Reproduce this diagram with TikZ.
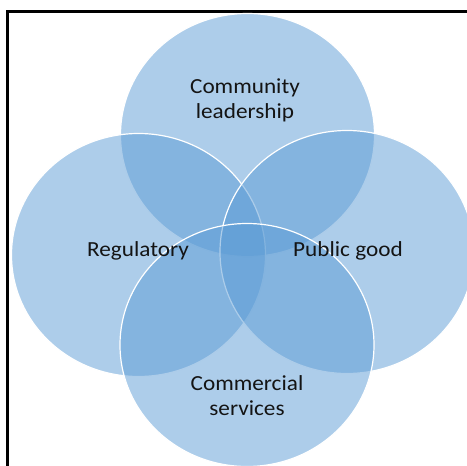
\documentclass[tikz,border=0pt]{standalone}
\usepackage{fontspec}
\setmainfont{Carlito}[FakeStretch=1.08]
\usetikzlibrary{shapes.geometric}
\definecolor{vennblue}{RGB}{91,155,213}
\definecolor{ink}{RGB}{20,20,20}

\begin{document}
\begin{tikzpicture}[x=1pt, y=-1pt]
\tikzstyle{petal}=[ellipse, fill=vennblue, fill opacity=0.5, draw=white, line width=1.2pt, minimum width=254pt, minimum height=243pt, inner sep=0pt]
\tikzstyle{venntext}=[text=ink, align=center, font=\fontsize{21.5}{25}\selectfont]
\useasboundingbox (0,0) rectangle (467,466);
% frame, only its left and top sides show
\draw[line width=3pt] (7.5,470) -- (7.5,11) -- (470,11);
% the four circles
\node[petal] (lead)  at (247.5,135) {};
\node[petal] (reg)   at (138.5,255) {};
\node[petal] (pub)   at (347,252)   {};
\node[petal] (comm)  at (247,345)   {};
% their labels
\node[venntext] (leadtext) at (245,100.5) {Community\\leadership};
\node[venntext] (regtext)  at (138,251)   {Regulatory};
\node[venntext] (pubtext)  at (348,251)   {Public good};
\node[venntext] (commtext) at (247,395.5) {Commercial\\services};
\end{tikzpicture}
\end{document}
